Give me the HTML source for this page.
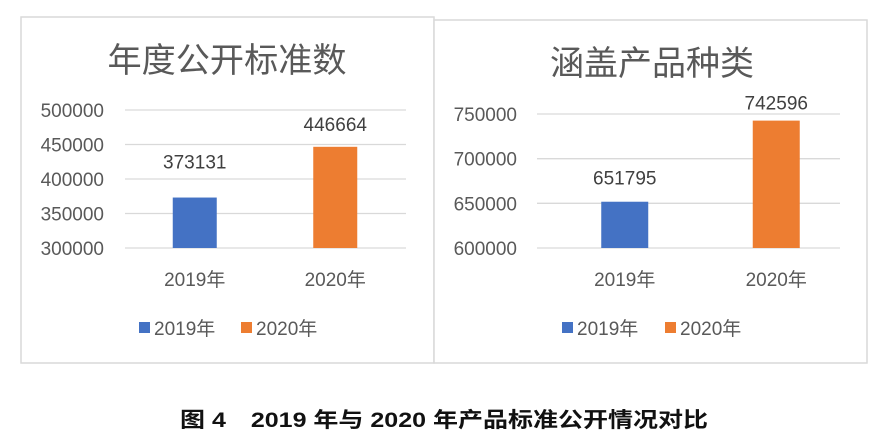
<!DOCTYPE html>
<html><head><meta charset="utf-8">
<style>
html,body{margin:0;padding:0;background:#fff;}
svg{display:block;font-family:"Liberation Sans","Noto Sans CJK SC",sans-serif;}
</style></head>
<body>
<svg id="c" width="875" height="447" viewBox="0 0 875 447" xmlns="http://www.w3.org/2000/svg">
<rect x="21" y="17" width="413" height="346" fill="#fff" stroke="#d9d9d9" stroke-width="1.5"/>
<rect x="434" y="20" width="433" height="343" fill="#fff" stroke="#d9d9d9" stroke-width="1.5"/>
<text x="227" y="72" text-anchor="middle" font-size="34" fill="#595959" textLength="239" lengthAdjust="spacingAndGlyphs">年度公开标准数</text>
<text x="652" y="75" text-anchor="middle" font-size="34" fill="#595959" textLength="204" lengthAdjust="spacingAndGlyphs">涵盖产品种类</text>
<g id="left"></g>
<g id="right"></g>
<text x="444" y="427" text-anchor="middle" font-size="21" font-weight="bold" fill="#111" textLength="528" lengthAdjust="spacingAndGlyphs">图 4　2019 年与 2020 年产品标准公开情况对比</text>
</svg>
<script>
const categories = ["2019年", "2020年"];
const leftValues = [373131, 446664];
const leftTicks = [300000, 350000, 400000, 450000, 500000];
const rightValues = [651795, 742596];
const rightTicks = [600000, 650000, 700000, 750000];
const colors = ["#4472c4", "#ed7d31"];
const NS = "http://www.w3.org/2000/svg";
function mk(tag, attrs, parent, txt){
  const e = document.createElementNS(NS, tag);
  for (const k in attrs) e.setAttribute(k, attrs[k]);
  if (txt !== undefined) e.textContent = txt;
  parent.appendChild(e);
  return e;
}
function draw(g, values, ticks, cfg){
  const min = ticks[0], max = ticks[ticks.length-1];
  const y = v => cfg.y0 - (v - min) / (max - min) * (cfg.y0 - cfg.y1);
  const band = (cfg.x1 - cfg.x0) / categories.length;
  const xc = i => cfg.x0 + band * (i + 0.5) + cfg.shift;
  ticks.forEach(t => {
    const l = mk("line", {x1: cfg.x0, x2: cfg.x1, y1: y(t), y2: y(t), stroke: "#d9d9d9", "stroke-width": 1.3}, g);
    
    
    const tx = mk("text", {x: cfg.labelX, y: y(t) + 7, "text-anchor": "end", "font-size": 19, fill: "#595959"}, g, String(t));
    
    
  });
  values.forEach((v, i) => {
    const b = mk("rect", {x: xc(i) - cfg.bw/2, y: y(v), width: cfg.bw, height: cfg.y0 - y(v), fill: colors[i]}, g);
    
    
    const vl = mk("text", {x: xc(i), y: y(v) - cfg.lblOff[i], "text-anchor": "middle", "font-size": 19, fill: "#404040"}, g, String(v));
    
    
    const cl = mk("text", {x: xc(i), y: 286, "text-anchor": "middle", "font-size": 19, fill: "#595959"}, g, categories[i]);
    
    
    const sq = mk("rect", {x: cfg.legX[i], y: 322, width: 11, height: 11, fill: colors[i]}, g);
    
    
    const lt = mk("text", {x: cfg.legX[i] + 15, y: 335, "font-size": 19, fill: "#595959"}, g, categories[i]);
    
    
  });
}
draw(document.getElementById("left"), leftValues, leftTicks,
  {x0: 125, x1: 406, y0: 248, y1: 110, labelX: 104, bw: 44, shift: -0.5, lblOff: [29, 16], legX: [139, 241]});
draw(document.getElementById("right"), rightValues, rightTicks,
  {x0: 537, x1: 840, y0: 248, y1: 114, labelX: 517, bw: 47, shift: 12, lblOff: [17, 11], legX: [562, 665]});
</script>
</body></html>
